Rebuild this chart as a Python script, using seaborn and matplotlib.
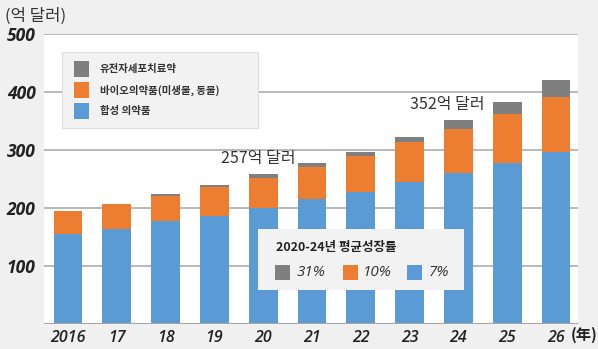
import matplotlib
matplotlib.use("Agg")
import matplotlib.pyplot as plt
import seaborn as sns
import pandas as pd
import numpy as np
from matplotlib.patches import Rectangle

years = ["2016", "17", "18", "19", "20", "21", "22", "23", "24", "25", "26"]
synthetic = [156, 163, 177, 187, 200, 215, 228, 244, 260, 278, 297]
biologic = [39, 44, 44, 49, 52, 55, 62, 69, 76, 84, 94]
gene_cell = [0, 0, 3, 4, 6, 7, 7, 10, 16, 21, 29]
series_names = ["유전자세포치료약", "바이오의약품(미생물, 동물)", "합성 의약품"]
growth_labels = ["31%", "10%", "7%"]
annot_texts = ["257억 달러", "352억 달러"]

C_BLUE = "#5B9BD5"
C_ORANGE = "#ED7D31"
C_GRAY = "#7F7F7F"
BG = "#f0f0f0"
KR = ["Noto Sans CJK KR", "DejaVu Sans"]
NUM = ["Open Sans", "DejaVu Sans"]

sns.set_theme(style="white")
plt.rcParams["font.family"] = KR

W, H = 598, 349
fig = plt.figure(figsize=(W / 100, H / 100), dpi=100, facecolor=BG)

def fx(x):
    return x / W

def fy(y):
    return 1 - y / H

ax = fig.add_axes([fx(44), fy(324), fx(578) - fx(44), fy(34) - fy(324)])
ax.set_facecolor("white")

df = pd.DataFrame({"year": years, "syn": synthetic, "bio": biologic, "gene": gene_cell})
df["t2"] = df["syn"] + df["bio"]
df["t3"] = df["t2"] + df["gene"]

for col, c in [("t3", C_GRAY), ("t2", C_ORANGE), ("syn", C_BLUE)]:
    sns.barplot(data=df, x="year", y=col, color=c, width=0.59, ax=ax,
                saturation=1, edgecolor="none", linewidth=0, zorder=3)

ax.set_xlim(-0.49, 10.45)
ax.set_ylim(0, 500)
ax.set_yticks([100, 200, 300, 400, 500])
for v in [100, 200, 300, 400, 500]:
    ax.axhline(v, color="#a6a6a6", lw=1.1, zorder=1)
ax.axhline(0, color="#a6a6a6", lw=1.5, zorder=4)
for s in ax.spines.values():
    s.set_visible(False)
ax.set_xlabel("")
ax.set_ylabel("")
ax.tick_params(axis="both", length=0)
ax.tick_params(axis="y", pad=6)
ax.tick_params(axis="x", pad=4)
for lab in ax.get_yticklabels():
    lab.set_fontfamily(NUM)
    lab.set_fontstyle("italic")
    lab.set_fontweight("bold")
    lab.set_fontsize(12.5)
    lab.set_color("#222222")
for lab in ax.get_xticklabels():
    lab.set_fontfamily(NUM)
    lab.set_fontstyle("italic")
    lab.set_fontweight("semibold")
    lab.set_fontsize(11.5)
    lab.set_color("#222222")

# annotations
ax.text(3.91, 286, annot_texts[0], ha="center", va="center", fontsize=11.5,
        color="#333333", zorder=6)
ax.text(7.77, 378, annot_texts[1], ha="center", va="center", fontsize=11.5,
        color="#333333", zorder=6)

# unit labels
fig.text(fx(5), fy(16), "(억 달러)", ha="left", va="center", fontsize=12, color="#333333")
fig.text(fx(571), fy(335), "(年)", ha="left", va="center", fontsize=11,
         color="#222222", fontweight="bold")

# legend 1
fig.add_artist(Rectangle((fx(62), fy(128)), fx(258) - fx(62), fy(52) - fy(128),
                         transform=fig.transFigure, facecolor="#f2f2f2",
                         edgecolor="#dddddd", lw=0.8, zorder=10))
for yc, c, name in zip([69, 90, 111], [C_GRAY, C_ORANGE, C_BLUE], series_names):
    fig.add_artist(Rectangle((fx(74), fy(yc + 7.5)), fx(15), 15 / H,
                             transform=fig.transFigure, facecolor=c,
                             edgecolor="none", zorder=11))
    fig.text(fx(100), fy(yc), name, ha="left", va="center", fontsize=7.5,
             fontweight="bold", color="#333333", zorder=12)

# legend 2
fig.add_artist(Rectangle((fx(258), fy(290)), fx(464) - fx(258), fy(229) - fy(290),
                         transform=fig.transFigure, facecolor="#f2f2f2",
                         edgecolor="none", zorder=10))
fig.text(fx(276), fy(248), "2020-24년 평균성장률", ha="left", va="center",
         fontsize=9, fontweight="bold", color="#222222", zorder=12)
for xs, xt, c, g in zip([275, 343, 407], [297, 363, 429],
                        [C_GRAY, C_ORANGE, C_BLUE], growth_labels):
    fig.add_artist(Rectangle((fx(xs), fy(280)), fx(15), 15 / H,
                             transform=fig.transFigure, facecolor=c,
                             edgecolor="none", zorder=11))
    fig.text(fx(xt), fy(272.5), g, ha="left", va="center", fontsize=11,
             fontstyle="italic", family=NUM, color="#333333", zorder=12)

fig.savefig("out.png", dpi=100, facecolor=BG)
